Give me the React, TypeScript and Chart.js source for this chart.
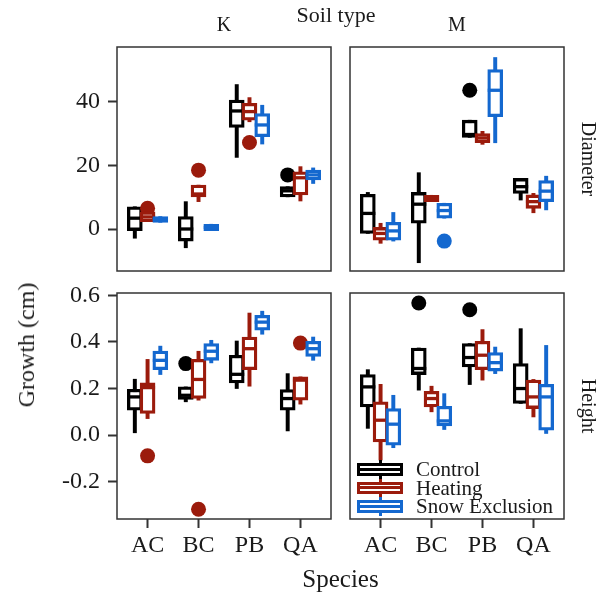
import React, { useEffect, useRef } from "react";
import { Chart, registerables } from "chart.js";

Chart.register(...registerables);

const FONT = "'Liberation Serif', 'Times New Roman', serif";

const species = ["AC", "BC", "PB", "QA"];
const treatments = ["Control", "Heating", "Snow Exclusion"];
const soilTypes = ["K", "M"];
const measures = ["Diameter", "Height"];
const diameterTicks = [0, 20, 40];
const diameterTickLabels = ["0", "20", "40"];
const heightTicks = [-0.2, 0.0, 0.2, 0.4, 0.6];
const heightTickLabels = ["-0.2", "0.0", "0.2", "0.4", "0.6"];

// five-number summaries per species (AC, BC, PB, QA):
// [lower whisker, Q1, median, Q3, upper whisker]
const diamK_Control = [[-2.9, -0.5, 3.4, 7.0, 7.0], [-5.9, -3.8, 0.0, 3.9, 8.6], [22.5, 31.9, 37.1, 40.5, 45.4], [10.1, 10.1, 12.0, 13.3, 13.3]];
const diamK_Heating = [[2.3, 2.3, 3.8, 5.4, 5.4], [8.6, 10.1, 11.0, 13.8, 13.8], [33.7, 34.2, 36.9, 39.5, 41.3], [8.8, 10.7, 16.1, 18.0, 19.6]];
const diamK_Snow = [[2.1, 2.1, 3.0, 3.9, 3.9], [-0.5, -0.5, 0.5, 1.5, 1.5], [26.7, 29.0, 32.7, 36.3, 38.9], [14.3, 15.4, 17.0, 18.5, 19.2]];
// outliers: [species index, treatment index, value]
const diamK_Outliers = [[0, 1, 6.5], [1, 1, 18.5], [2, 1, 27.2], [3, 0, 17.0]];

const diamM_Control = [[-1.4, -1.4, 4.9, 10.9, 11.5], [-10.6, 1.8, 7.8, 11.5, 17.7], [28.8, 28.8, 29.7, 34.2, 34.2], [9.1, 11.2, 13.3, 15.9, 15.9]];
const diamM_Heating = [[-4.5, -3.5, -1.4, 0.5, 1.8], [8.6, 8.6, 9.6, 10.6, 10.6], [26.6, 27.1, 28.6, 30.0, 30.7], [5.1, 6.5, 8.6, 10.7, 11.2]];
const diamM_Snow = [[-3.8, -3.5, -0.6, 2.1, 5.2], [3.4, 3.4, 5.8, 8.1, 8.1], [27.1, 35.3, 43.6, 50.1, 53.9], [6.0, 8.6, 11.9, 15.2, 16.6]];
const diamM_Outliers = [[1, 2, -3.8], [2, 0, 43.6]];

const heightK_Control = [[0.010, 0.107, 0.164, 0.197, 0.240], [0.143, 0.153, 0.171, 0.207, 0.207], [0.200, 0.224, 0.261, 0.343, 0.404], [0.018, 0.107, 0.157, 0.196, 0.264]];
const heightK_Heating = [[0.071, 0.093, 0.204, 0.224, 0.325], [0.150, 0.157, 0.239, 0.325, 0.360], [0.210, 0.281, 0.371, 0.421, 0.524], [0.133, 0.150, 0.236, 0.250, 0.250]];
const heightK_Snow = [[0.260, 0.281, 0.321, 0.361, 0.382], [0.310, 0.321, 0.360, 0.393, 0.407], [0.433, 0.450, 0.485, 0.514, 0.532], [0.321, 0.338, 0.371, 0.403, 0.421]];
const heightK_Outliers = [[0, 1, -0.089], [1, 0, 0.307], [1, 1, -0.318], [3, 1, 0.395]];

const heightM_Control = [[0.029, 0.121, 0.207, 0.260, 0.281], [0.193, 0.260, 0.286, 0.374, 0.374], [0.217, 0.293, 0.333, 0.393, 0.393], [0.136, 0.136, 0.200, 0.307, 0.457]];
const heightM_Heating = [[-0.107, -0.029, 0.064, 0.143, 0.218], [0.100, 0.121, 0.157, 0.188, 0.210], [0.236, 0.281, 0.343, 0.403, 0.453], [0.078, 0.114, 0.164, 0.236, 0.239]];
const heightM_Snow = [[-0.054, -0.043, 0.047, 0.114, 0.171], [0.024, 0.039, 0.061, 0.124, 0.178], [0.264, 0.275, 0.311, 0.354, 0.378], [0.007, 0.021, 0.164, 0.218, 0.385]];
const heightM_Outliers = [[1, 0, 0.567], [2, 0, 0.538]];

// ---- styling / layout (kept apart from data) ----
const COLORS = ["#000000", "#9b1b0c", "#1468cf"];
const TEXT = "#1a1a1a";
const FRAME = "#333333";
const DODGE = 0.25;

type PanelCfg = {
  rect: { l: number; t: number; r: number; b: number };
  stats: number[][][];
  outliers: number[][];
  yMin: number;
  yMax: number;
  ticks: number[];
  tickLabels: string[];
  showY: boolean;
  showX: boolean;
};

const Y_AXIS_W = 60;
const X_AXIS_H = 45;

const panels: PanelCfg[] = [
  { rect: { l: 117, t: 47, r: 331, b: 271 }, stats: [diamK_Control, diamK_Heating, diamK_Snow], outliers: diamK_Outliers, yMin: -13.2, yMax: 57.2, ticks: diameterTicks, tickLabels: diameterTickLabels, showY: true, showX: false },
  { rect: { l: 350, t: 47, r: 564, b: 271 }, stats: [diamM_Control, diamM_Heating, diamM_Snow], outliers: diamM_Outliers, yMin: -13.2, yMax: 57.2, ticks: diameterTicks, tickLabels: diameterTickLabels, showY: false, showX: false },
  { rect: { l: 117, t: 293, r: 331, b: 519 }, stats: [heightK_Control, heightK_Heating, heightK_Snow], outliers: heightK_Outliers, yMin: -0.36, yMax: 0.61, ticks: heightTicks, tickLabels: heightTickLabels, showY: true, showX: true },
  { rect: { l: 350, t: 293, r: 564, b: 519 }, stats: [heightM_Control, heightM_Heating, heightM_Snow], outliers: heightM_Outliers, yMin: -0.36, yMax: 0.61, ticks: heightTicks, tickLabels: heightTickLabels, showY: false, showX: true },
];

const framePlugin = {
  id: "panelFrame",
  afterDatasetsDraw(chart: any) {
    const { ctx, chartArea: a } = chart;
    ctx.save();
    ctx.strokeStyle = FRAME;
    ctx.lineWidth = 1.5;
    ctx.strokeRect(a.left, a.top, a.right - a.left, a.bottom - a.top);
    ctx.restore();
  },
};

function buildConfig(cfg: PanelCfg): any {
  const datasets: any[] = [];
  cfg.stats.forEach((rows, t) => {
    const xOf = (i: number) => i + 1 + (t - 1) * DODGE;
    const base = 100 - t * 4;
    datasets.push({
      type: "scatter",
      label: treatments[t] + " outliers",
      data: cfg.outliers.filter((o) => o[1] === t).map((o) => ({ x: o[0] + 1 + (t - 1) * DODGE, y: o[2] })),
      pointRadius: 7.5,
      pointBackgroundColor: COLORS[t],
      pointBorderWidth: 0,
      pointBorderColor: COLORS[t],
      order: base,
    });
    datasets.push({
      type: "bar",
      label: treatments[t] + " whiskers",
      data: rows.map((s, i) => ({ x: xOf(i), y: [s[0], s[4]] })),
      backgroundColor: COLORS[t],
      borderWidth: 0,
      barThickness: 3.3,
      grouped: false,
      order: base - 1,
    });
    datasets.push({
      type: "bar",
      label: treatments[t],
      data: rows.map((s, i) => ({ x: xOf(i), y: [s[1], s[3]] })),
      backgroundColor: "#ffffff",
      borderColor: COLORS[t],
      borderWidth: 3.3,
      borderSkipped: false,
      barThickness: 15,
      grouped: false,
      order: base - 2,
    });
    datasets.push({
      type: "scatter",
      label: treatments[t] + " median",
      data: rows.map((s, i) => ({ x: xOf(i), y: s[2] })),
      pointStyle: "line",
      pointRadius: 7.5,
      pointBorderWidth: 3.3,
      pointBorderColor: COLORS[t],
      pointBackgroundColor: COLORS[t],
      order: base - 3,
    });
  });

  const { l, t, r, b } = cfg.rect;
  const grid = {
    display: true,
    offset: false,
    drawOnChartArea: false,
    drawTicks: true,
    tickLength: 9,
    tickWidth: 2,
    tickColor: FRAME,
  };

  return {
    type: "bar",
    data: { datasets },
    options: {
      animation: false,
      responsive: false,
      events: [],
      layout: {
        padding: {
          left: cfg.showY ? l - Y_AXIS_W : l,
          top: t,
          right: 598 - r,
          bottom: cfg.showX ? 598 - b - X_AXIS_H : 598 - b,
        },
      },
      plugins: { legend: { display: false }, tooltip: { enabled: false }, title: { display: false } },
      scales: {
        x: {
          type: "linear",
          min: 0.4,
          max: 4.6,
          offset: false,
          display: cfg.showX,
          afterBuildTicks: (s: any) => {
            s.ticks = species.map((_, i) => ({ value: i + 1 }));
          },
          afterFit: (s: any) => {
            s.height = cfg.showX ? X_AXIS_H : 0;
          },
          ticks: {
            callback: (v: any) => species[Math.round(v) - 1],
            font: { family: FONT, size: 24 },
            color: TEXT,
            padding: 3,
            autoSkip: false,
            maxRotation: 0,
            minRotation: 0,
          },
          grid,
          border: { display: false },
        },
        y: {
          type: "linear",
          min: cfg.yMin,
          max: cfg.yMax,
          offset: false,
          display: cfg.showY,
          afterBuildTicks: (s: any) => {
            s.ticks = cfg.ticks.map((v) => ({ value: v }));
          },
          afterFit: (s: any) => {
            s.width = cfg.showY ? Y_AXIS_W : 0;
          },
          ticks: {
            callback: (_v: any, i: number) => cfg.tickLabels[i],
            font: { family: FONT, size: 24 },
            color: TEXT,
            padding: 8,
            autoSkip: false,
          },
          grid,
          border: { display: false },
        },
      },
    },
    plugins: [framePlugin],
  };
}

function Panel({ cfg }: { cfg: PanelCfg }) {
  const ref = useRef<HTMLCanvasElement>(null);
  useEffect(() => {
    const chart = new Chart(ref.current as HTMLCanvasElement, buildConfig(cfg));
    return () => chart.destroy();
  }, [cfg]);
  return (
    <canvas
      ref={ref}
      width={598}
      height={598}
      style={{ position: "absolute", left: 0, top: 0, width: 598, height: 598 }}
    />
  );
}

function Txt({ x, y, size, children, anchor = "middle" }: any) {
  const tx = anchor === "middle" ? "translateX(-50%)" : "none";
  return (
    <div
      style={{
        position: "absolute",
        left: x,
        top: y - 0.8375 * size,
        transform: tx,
        fontFamily: FONT,
        fontSize: size,
        lineHeight: `${size}px`,
        whiteSpace: "nowrap",
        color: TEXT,
      }}
    >
      {children}
    </div>
  );
}

function RotTxt({ cx, cy, size, angle, children }: any) {
  return (
    <div
      style={{
        position: "absolute",
        left: cx,
        top: cy,
        transform: `translate(-50%, -50%) rotate(${angle}deg)`,
        fontFamily: FONT,
        fontSize: size,
        lineHeight: `${size}px`,
        whiteSpace: "nowrap",
        color: TEXT,
      }}
    >
      {children}
    </div>
  );
}

function LegendKey({ left, top, color }: any) {
  const w = 46;
  const h = 12.5;
  return (
    <>
      <div style={{ position: "absolute", left: left + w / 2 - 1.5, top: top - 3, width: 3, height: h + 6, background: color }} />
      <div
        style={{
          position: "absolute",
          left,
          top,
          width: w,
          height: h,
          boxSizing: "border-box",
          border: `3px solid ${color}`,
          background: "#ffffff",
        }}
      />
      <div style={{ position: "absolute", left, top: top + h / 2 - 1.5, width: w, height: 3, background: color }} />
    </>
  );
}

export default function App() {
  const rowTop = [463, 481.7, 500.4];
  const rowBase = [476.8, 495.4, 514];
  return (
    <div style={{ position: "absolute", left: 0, top: 0, width: 598, height: 598, background: "#ffffff", overflow: "hidden" }}>
      {panels.map((p, i) => (
        <Panel key={i} cfg={p} />
      ))}
      <Txt x={336} y={22} size={22}>Soil type</Txt>
      <Txt x={224} y={31} size={20}>{soilTypes[0]}</Txt>
      <Txt x={457} y={31} size={20}>{soilTypes[1]}</Txt>
      <RotTxt cx={588.5} cy={159} size={20} angle={90}>{measures[0]}</RotTxt>
      <RotTxt cx={588.5} cy={406} size={20} angle={90}>{measures[1]}</RotTxt>
      <RotTxt cx={26} cy={345} size={24} angle={-90}>Growth (cm)</RotTxt>
      <Txt x={340.5} y={587} size={25}>Species</Txt>
      {treatments.map((t, i) => (
        <React.Fragment key={t}>
          <LegendKey left={357} top={rowTop[i]} color={COLORS[i]} />
          <Txt x={416} y={rowBase[i]} size={21} anchor="start">{t}</Txt>
        </React.Fragment>
      ))}
    </div>
  );
}
